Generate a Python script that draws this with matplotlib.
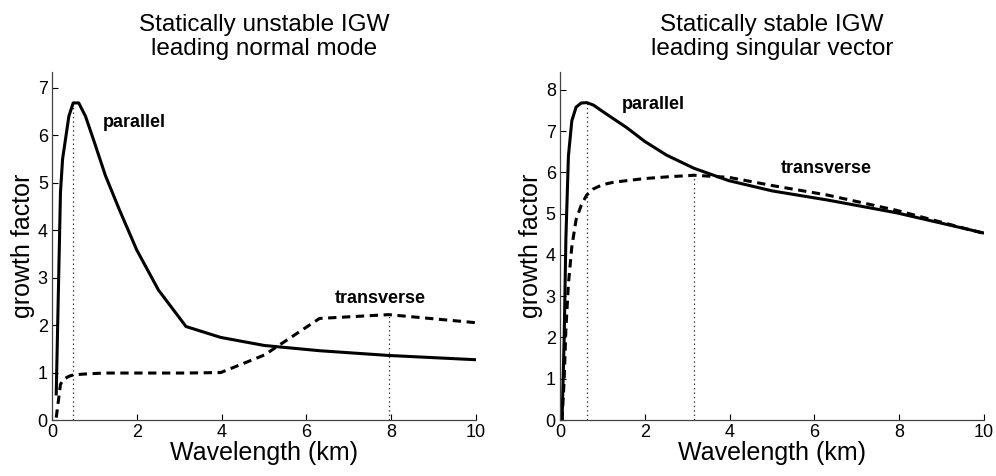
import numpy as np
import matplotlib
matplotlib.use("Agg")
import matplotlib.pyplot as plt

plt.rcParams['font.family'] = ['Liberation Sans', 'DejaVu Sans']
plt.rcParams['lines.scale_dashes'] = False

# left panel: statically unstable IGW, leading normal mode
wl_left = [0.1, 0.2, 0.25, 0.316, 0.398, 0.5, 0.63, 0.79, 1.0, 1.26, 1.58,
           2.0, 2.51, 3.16, 3.98, 5.01, 6.31, 7.94, 10.0]
par_left = [0.55, 4.8, 5.5, 5.9, 6.4, 6.68, 6.68, 6.4, 5.85, 5.15, 4.45,
            3.58, 2.74, 1.97, 1.74, 1.57, 1.46, 1.36, 1.27]
trans_left = [0.05, 0.75, 0.83, 0.88, 0.92, 0.95, 0.96, 0.97, 0.98, 0.99, 0.99,
              0.99, 0.99, 0.99, 1.0, 1.37, 2.14, 2.22, 2.05]
peaks_left = [(0.5, 6.68), (7.94, 2.22)]

# right panel: statically stable IGW, leading singular vector
wl_right = [0.05, 0.1, 0.14, 0.2, 0.28, 0.38, 0.5, 0.63, 0.79, 1.0, 1.26, 1.58,
            2.0, 2.51, 3.16, 3.98, 5.01, 6.31, 7.94, 10.0]
par_right = [0.0, 2.0, 4.4, 6.4, 7.25, 7.58, 7.68, 7.69, 7.63, 7.48, 7.3, 7.08,
             6.75, 6.42, 6.1, 5.8, 5.55, 5.33, 5.02, 4.53]
trans_right = [0.0, 1.0, 2.2, 3.3, 4.2, 4.85, 5.2, 5.45, 5.6, 5.7, 5.76, 5.8,
               5.85, 5.89, 5.93, 5.88, 5.68, 5.45, 5.08, 4.52]
peaks_right = [(0.63, 7.69), (3.16, 5.93)]


def draw_panel(ax, wl, par, trans, peaks, title, ytop, nticks, lab_par, lab_trans):
    for x, y in peaks:
        ax.plot([x, x], [0, y], color='#333333', lw=0.9, linestyle=(0, (1, 2.2)))
    ax.plot(wl, par, color='black', lw=2.2, solid_joinstyle='round')
    ax.plot(wl, trans, color='black', lw=2.2, linestyle=(0, (6, 4)))
    ax.text(lab_par[0], lab_par[1], 'parallel', fontsize=13, fontweight='bold', va='center')
    ax.text(lab_trans[0], lab_trans[1], 'transverse', fontsize=13, fontweight='bold', va='center')
    ax.set_xlim(0, 10)
    ax.set_ylim(0, ytop)
    ax.set_xticks(range(0, 11, 2))
    ax.set_yticks(range(0, nticks + 1))
    ax.tick_params(direction='in', length=4, labelsize=13, width=0.8, pad=3)
    for s in ['top', 'right']:
        ax.spines[s].set_visible(False)
    for s in ['left', 'bottom']:
        ax.spines[s].set_color('#444444')
        ax.spines[s].set_linewidth(0.9)
    ax.set_xlabel('Wavelength (km)', fontsize=18, labelpad=0)
    ax.set_ylabel('growth factor', fontsize=18, labelpad=2)
    ax.set_title(title, fontsize=17.5, pad=12, linespacing=1.12)


fig = plt.figure(figsize=(9.96, 4.76), dpi=100)
ax1 = fig.add_axes([0.0522, 0.1176, 0.4257, 0.731])
ax2 = fig.add_axes([0.5622, 0.1176, 0.4257, 0.731])

draw_panel(ax1, wl_left, par_left, trans_left, peaks_left,
           'Statically unstable IGW\nleading normal mode', 7.33, 7,
           (1.2, 6.26), (6.67, 2.55))
draw_panel(ax2, wl_right, par_right, trans_right, peaks_right,
           'Statically stable IGW\nleading singular vector', 8.43, 8,
           (1.46, 7.65), (5.21, 6.09))

fig.savefig('out.png', dpi=100)
